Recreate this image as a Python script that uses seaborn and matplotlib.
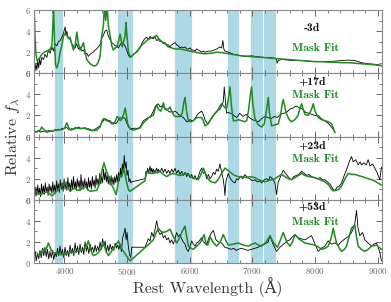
import matplotlib
matplotlib.use("Agg")
import matplotlib.pyplot as plt
import seaborn as sns
from matplotlib.ticker import MultipleLocator

# Epoch labels and masked wavelength windows (Angstrom)
EPOCHS = ["-3d", "+17d", "+23d", "+53d"]
MASK_BANDS = [(3830, 3970), (4840, 5100), (5750, 6040), (6590, 6790), (6960, 7170), (7170, 7380)]

# -3d spectrum
P1_OBS_WL = [3517, 3530, 3545, 3560, 3575, 3590, 3605, 3620, 3640, 3666,
             3690, 3719, 3745, 3772, 3800, 3825, 3850, 3878, 3905, 3932,
             3958, 3985, 4011, 4025, 4038, 4064, 4091, 4117, 4144, 4171,
             4197, 4224, 4251, 4277, 4304, 4330, 4357, 4383, 4410, 4437,
             4463, 4490, 4516, 4543, 4570, 4596, 4623, 4649, 4676, 4702,
             4729, 4756, 4782, 4809, 4835, 4862, 4889, 4915, 4942, 4968,
             4995, 5022, 5048, 5075, 5101, 5128, 5154, 5181, 5207, 5234,
             5261, 5287, 5314, 5340, 5367, 5394, 5420, 5447, 5473, 5500,
             5527, 5553, 5580, 5606, 5633, 5660, 5686, 5712, 5739, 5765,
             5792, 5819, 5846, 5872, 5899, 5925, 5952, 5979, 6005, 6032,
             6058, 6085, 6112, 6138, 6165, 6191, 6218, 6244, 6300, 6350,
             6430, 6483, 6510, 6530, 6545, 6563, 6616, 6700, 6776, 6882,
             6988, 7095, 7201, 7281, 7370, 7387, 7395, 7414, 7467, 7573,
             7680, 7786, 7892, 7998, 8105, 8211, 8318, 8424, 8530, 8637,
             8743, 8849, 8955, 9062]
P1_OBS_FX = [1.0, 0.2, 0.9, 0.3, 1.2, 0.5, 1.4, 0.8, 1.5, 1.3,
             1.8, 1.5, 2.2, 1.9, 2.5, 2.1, 2.8, 2.6, 3.0, 3.1,
             3.4, 3.8, 4.4, 3.6, 4.0, 3.3, 3.2, 2.8, 2.6, 2.4,
             2.8, 2.3, 2.5, 2.1, 2.2, 1.8, 1.9, 1.6, 1.8, 1.9,
             2.0, 2.2, 2.3, 2.5, 2.7, 3.3, 3.6, 4.0, 4.1, 3.5,
             3.2, 2.9, 2.8, 2.6, 2.6, 2.4, 2.7, 2.9, 2.8, 2.6,
             2.2, 1.7, 1.5, 1.6, 1.8, 1.9, 2.1, 2.2, 2.4, 2.8,
             3.1, 3.3, 3.4, 3.2, 3.5, 3.3, 3.3, 3.4, 3.1, 3.2,
             3.0, 3.0, 2.8, 2.9, 2.7, 2.7, 2.5, 2.7, 2.8, 2.9,
             2.7, 2.6, 2.4, 2.5, 2.4, 2.5, 2.3, 2.3, 2.4, 2.2,
             2.2, 2.1, 2.3, 2.2, 2.1, 2.0, 2.1, 2.0, 2.1, 2.1,
             2.3, 2.5, 2.4, 3.1, 2.3, 2.1, 2.0, 1.8, 1.7, 1.6,
             1.65, 1.55, 1.5, 1.5, 1.4, 1.3, 0.95, 1.2, 1.3, 1.25,
             1.2, 1.2, 1.15, 1.1, 1.1, 1.1, 1.15, 1.2, 1.25, 1.2,
             1.0, 0.9, 0.85, 0.75]
P1_FIT_WL = [3517, 3530, 3545, 3565, 3600, 3640, 3680, 3720, 3772, 3800,
             3815, 3828, 3842, 3858, 3878, 3905, 3932, 3958, 3985, 4011,
             4038, 4064, 4091, 4117, 4144, 4171, 4197, 4224, 4251, 4277,
             4304, 4330, 4357, 4383, 4410, 4437, 4463, 4490, 4516, 4543,
             4570, 4596, 4623, 4640, 4660, 4680, 4702, 4729, 4756, 4782,
             4809, 4835, 4862, 4889, 4915, 4926, 4942, 4968, 4984, 4995,
             5022, 5048, 5075, 5101, 5154, 5207, 5261, 5314, 5367, 5420,
             5473, 5500, 5553, 5606, 5660, 5712, 5765, 5846, 5925, 6005,
             6085, 6165, 6244, 6350, 6430, 6510, 6616, 6723, 6829, 6935,
             7042, 7148, 7254, 7360, 7467, 7573, 7680, 7786, 7892, 7998,
             8105, 8211, 8318, 8424, 8530, 8637, 8743, 8849, 8955, 9062]
P1_FIT_FX = [6.3, 3.5, 1.8, 1.2, 1.4, 1.8, 2.0, 2.1, 2.3, 2.6,
             4.5, 6.5, 3.0, 0.8, 0.5, 1.0, 2.0, 2.6, 3.5, 3.8,
             3.6, 3.3, 3.4, 2.8, 2.2, 2.6, 3.9, 2.8, 2.2, 2.5,
             2.9, 2.0, 1.3, 1.1, 0.9, 0.8, 0.7, 0.7, 0.8, 1.1,
             1.6, 3.5, 4.6, 6.5, 5.0, 6.5, 4.5, 3.6, 2.6, 2.2,
             2.4, 2.5, 3.0, 3.7, 2.8, 2.5, 3.0, 3.5, 4.8, 3.8,
             2.0, 1.6, 1.6, 1.8, 2.0, 2.5, 2.8, 3.1, 3.3, 3.4,
             3.6, 3.3, 3.0, 2.8, 2.5, 2.4, 2.3, 2.3, 2.2, 2.1,
             2.0, 1.9, 1.85, 1.9, 2.0, 1.95, 1.85, 1.75, 1.65, 1.6,
             1.55, 1.5, 1.45, 1.4, 1.35, 1.3, 1.25, 1.2, 1.15, 1.1,
             1.1, 1.05, 1.05, 1.0, 1.0, 0.95, 0.9, 0.85, 0.8, 0.7]

# +17d spectrum
P2_OBS_WL = [3517, 3540, 3560, 3590, 3613, 3640, 3666, 3690, 3719, 3745,
             3772, 3799, 3825, 3850, 3878, 3905, 3932, 3958, 3985, 4011,
             4038, 4064, 4091, 4117, 4144, 4171, 4197, 4224, 4251, 4277,
             4304, 4330, 4357, 4383, 4410, 4437, 4463, 4490, 4516, 4543,
             4570, 4596, 4623, 4649, 4676, 4702, 4729, 4756, 4782, 4809,
             4835, 4862, 4889, 4915, 4942, 4968, 4995, 5022, 5048, 5075,
             5101, 5128, 5154, 5181, 5207, 5234, 5261, 5287, 5314, 5340,
             5367, 5394, 5420, 5447, 5473, 5500, 5527, 5553, 5580, 5606,
             5633, 5660, 5686, 5712, 5739, 5765, 5792, 5819, 5846, 5872,
             5899, 5925, 5952, 5979, 6005, 6032, 6058, 6085, 6112, 6138,
             6165, 6191, 6218, 6244, 6271, 6298, 6324, 6350, 6377, 6404,
             6430, 6457, 6483, 6510, 6536, 6552, 6574, 6590, 6616, 6643,
             6669, 6700, 6750, 6800, 6850, 6900, 6950, 7000, 7050, 7100,
             7150, 7200, 7250, 7300, 7350, 7400, 7450, 7500, 7550, 7600,
             7650, 7700, 7750, 7800, 7850, 7900, 7950, 8000, 8050, 8100,
             8150, 8200, 8250, 8300, 8320]
P2_OBS_FX = [0.3, 0.5, 0.4, 0.6, 0.4, 0.5, 0.45, 0.6, 0.5, 0.55,
             0.55, 0.5, 0.5, 0.65, 0.6, 0.7, 0.6, 0.75, 0.75, 0.8,
             0.85, 0.7, 0.65, 0.75, 0.7, 0.85, 0.8, 0.9, 0.8, 0.75,
             0.75, 0.85, 0.7, 0.75, 0.65, 0.6, 0.6, 0.7, 0.8, 0.9,
             1.0, 1.3, 1.5, 1.7, 1.6, 1.5, 1.5, 1.3, 1.3, 1.2,
             1.3, 1.6, 1.8, 1.7, 1.8, 1.7, 1.3, 0.9, 0.8, 0.75,
             0.75, 0.8, 0.75, 0.8, 0.9, 1.2, 1.5, 1.6, 1.7, 1.8,
             1.8, 2.1, 2.4, 2.8, 3.0, 3.1, 2.8, 2.9, 2.8, 2.7,
             2.6, 2.4, 2.3, 2.4, 2.3, 2.4, 2.3, 2.1, 2.0, 1.9,
             1.8, 1.6, 1.4, 1.4, 1.6, 1.5, 1.5, 1.7, 2.0, 2.2,
             2.3, 2.4, 2.1, 1.6, 1.3, 1.2, 1.5, 1.8, 2.0, 2.2,
             2.3, 2.5, 2.6, 2.9, 3.3, 4.7, 3.1, 2.2, 2.3, 2.2,
             2.2, 2.0, 1.8, 2.2, 1.9, 2.1, 1.8, 1.6, 1.5, 1.4,
             1.7, 1.9, 1.8, 1.7, 1.9, 1.8, 2.1, 2.2, 2.3, 2.6,
             2.7, 2.9, 2.7, 2.6, 2.3, 2.2, 2.1, 2.0, 2.0, 1.7,
             1.5, 1.3, 1.0, 0.6, 0.35]
P2_FIT_WL = [3517, 3570, 3613, 3639, 3666, 3719, 3772, 3825, 3878, 3932,
             3985, 4011, 4038, 4064, 4091, 4144, 4197, 4251, 4304, 4357,
             4410, 4463, 4516, 4570, 4596, 4623, 4676, 4729, 4756, 4782,
             4809, 4840, 4862, 4890, 4915, 4950, 4970, 4990, 5010, 5048,
             5101, 5154, 5207, 5261, 5314, 5367, 5420, 5447, 5473, 5500,
             5537, 5560, 5580, 5606, 5633, 5660, 5686, 5712, 5739, 5765,
             5800, 5846, 5880, 5905, 5925, 5950, 5979, 6020, 6058, 6112,
             6165, 6191, 6218, 6244, 6290, 6324, 6370, 6404, 6450, 6483,
             6510, 6540, 6570, 6590, 6615, 6643, 6665, 6696, 6740, 6776,
             6830, 6880, 6909, 6940, 6965, 6988, 7010, 7042, 7095, 7148,
             7190, 7230, 7254, 7275, 7307, 7360, 7414, 7450, 7475, 7493,
             7520, 7547, 7590, 7626, 7680, 7730, 7760, 7786, 7810, 7839,
             7890, 7940, 7972, 8000, 8052, 8105, 8158, 8211, 8264, 8318]
P2_FIT_FX = [0.4, 0.5, 0.6, 0.9, 0.7, 0.4, 0.5, 0.55, 0.6, 0.65,
             0.7, 0.9, 1.3, 0.9, 0.6, 0.7, 0.8, 0.75, 0.8, 0.7,
             0.6, 0.55, 0.6, 0.9, 1.4, 1.7, 1.5, 1.4, 1.2, 1.2,
             1.4, 1.9, 1.8, 1.5, 1.6, 2.2, 2.7, 2.0, 1.2, 0.7,
             0.6, 0.7, 0.8, 1.3, 1.6, 1.9, 2.0, 2.6, 3.0, 2.6,
             2.4, 2.7, 3.2, 2.6, 2.5, 2.6, 2.8, 2.4, 2.1, 1.9,
             1.9, 1.9, 2.2, 3.2, 3.7, 2.4, 1.5, 1.4, 1.5, 1.8,
             1.8, 1.8, 1.5, 1.0, 1.2, 1.5, 1.9, 2.2, 2.5, 2.9,
             3.1, 2.9, 2.7, 2.7, 3.5, 4.7, 3.0, 1.5, 1.5, 1.6,
             1.5, 1.4, 1.5, 2.5, 3.8, 4.7, 3.0, 1.7, 1.1, 0.9,
             1.2, 2.6, 3.7, 2.2, 1.0, 1.1, 1.2, 2.0, 3.0, 3.5,
             2.8, 2.1, 1.6, 1.4, 1.6, 2.0, 2.7, 3.1, 2.6, 2.1,
             2.0, 2.5, 3.1, 2.4, 1.8, 1.6, 1.5, 1.4, 1.2, 0.4]

# +23d spectrum
P3_OBS_WL = [3517, 3530, 3545, 3560, 3575, 3590, 3605, 3620, 3635, 3650,
             3665, 3680, 3695, 3710, 3725, 3740, 3755, 3770, 3785, 3800,
             3815, 3830, 3845, 3860, 3875, 3890, 3905, 3920, 3935, 3950,
             3965, 3980, 3995, 4010, 4025, 4040, 4055, 4070, 4085, 4100,
             4115, 4130, 4145, 4160, 4175, 4190, 4205, 4220, 4235, 4250,
             4265, 4280, 4295, 4310, 4325, 4340, 4355, 4370, 4385, 4400,
             4415, 4430, 4445, 4460, 4475, 4490, 4505, 4520, 4535, 4550,
             4565, 4580, 4595, 4610, 4625, 4640, 4655, 4670, 4685, 4700,
             4715, 4730, 4745, 4760, 4775, 4790, 4805, 4820, 4835, 4850,
             4865, 4880, 4895, 4910, 4925, 4940, 4955, 4970, 4985, 5000,
             5015, 5030, 5045, 5060, 5075, 5287, 5300, 5314, 5330, 5345,
             5367, 5380, 5394, 5410, 5420, 5447, 5473, 5490, 5500, 5527,
             5553, 5580, 5606, 5633, 5660, 5686, 5712, 5739, 5765, 5792,
             5819, 5846, 5872, 5899, 5925, 5952, 5979, 6005, 6032, 6058,
             6085, 6112, 6138, 6165, 6191, 6218, 6244, 6271, 6298, 6324,
             6350, 6377, 6404, 6430, 6457, 6483, 6510, 6536, 6552, 6563,
             6580, 6616, 6650, 6690, 6723, 6750, 6776, 6810, 6850, 6882,
             6920, 6960, 7000, 7042, 7080, 7120, 7148, 7190, 7230, 7260,
             7281, 7320, 7360, 7387, 7410, 7450, 7493, 7530, 7570, 7600,
             7626, 7660, 7700, 7740, 7786, 7830, 7870, 7900, 7945, 7990,
             8030, 8080, 8120, 8158, 8200, 8250, 8290, 8318, 8350, 8390,
             8424, 8460, 8500, 8530, 8560, 8583, 8610, 8650, 8690, 8720,
             8743, 8780, 8820, 8849, 8880, 8920, 8955, 8990, 9035, 9062]
P3_OBS_FX = [0.9, 0.3, 1.2, 0.4, 1.4, 0.5, 1.1, 0.3, 1.5, 0.6,
             1.3, 0.5, 1.6, 0.7, 1.2, 0.4, 1.5, 0.8, 1.3, 0.6,
             1.7, 0.7, 1.4, 0.6, 1.8, 0.9, 1.5, 0.7, 1.9, 1.0,
             1.6, 0.8, 2.0, 1.0, 1.7, 0.9, 2.1, 1.1, 1.6, 0.8,
             1.9, 1.0, 2.2, 1.1, 1.7, 0.9, 2.0, 1.2, 1.8, 0.9,
             2.4, 1.1, 1.8, 1.0, 2.0, 1.2, 1.7, 0.9, 2.1, 1.2,
             1.8, 1.0, 2.2, 1.3, 1.9, 1.1, 2.3, 1.4, 2.0, 1.3,
             2.5, 1.5, 2.2, 1.6, 2.9, 1.9, 2.6, 1.7, 2.4, 1.5,
             2.2, 1.4, 2.3, 1.5, 2.1, 1.4, 2.2, 1.6, 2.4, 1.7,
             2.6, 1.8, 3.0, 2.1, 3.4, 2.6, 4.2, 3.0, 3.6, 2.3,
             2.8, 1.7, 2.0, 1.6, 1.7, 2.0, 2.7, 2.4, 3.0, 2.5,
             3.2, 2.6, 3.0, 2.5, 2.9, 2.6, 3.0, 2.5, 2.9, 2.6,
             3.0, 2.6, 2.9, 2.5, 2.8, 2.5, 2.9, 2.6, 3.0, 2.5,
             2.8, 2.4, 2.7, 2.3, 2.6, 2.2, 2.5, 2.1, 2.4, 2.0,
             2.3, 1.9, 2.2, 2.7, 3.0, 2.5, 2.6, 2.0, 2.4, 2.0,
             2.2, 2.6, 2.4, 2.9, 2.7, 3.4, 2.6, 1.9, 1.2, 0.4,
             1.8, 2.5, 2.0, 1.7, 1.6, 2.0, 1.9, 2.2, 2.0, 2.4,
             2.1, 2.0, 1.8, 1.9, 1.7, 1.8, 1.6, 1.9, 2.0, 1.8,
             2.2, 2.0, 1.6, 0.5, 1.6, 2.2, 2.8, 2.5, 2.2, 2.0,
             1.9, 2.2, 2.3, 2.4, 2.7, 2.5, 2.3, 2.4, 2.2, 2.1,
             2.0, 2.1, 1.9, 1.9, 1.7, 1.4, 1.0, 0.85, 1.2, 1.3,
             1.6, 2.2, 2.8, 3.3, 3.8, 4.1, 3.6, 3.8, 3.3, 3.6,
             3.3, 3.5, 3.3, 3.8, 3.2, 3.4, 3.0, 2.6, 1.9, 3.1]
P3_FIT_WL = [3517, 3560, 3613, 3666, 3719, 3760, 3799, 3840, 3878, 3920,
             3958, 4011, 4050, 4091, 4130, 4171, 4210, 4251, 4290, 4330,
             4370, 4410, 4463, 4516, 4545, 4570, 4600, 4633, 4660, 4687,
             4729, 4782, 4810, 4825, 4850, 4878, 4915, 4952, 4975, 4995,
             5020, 5048, 5287, 5314, 5367, 5420, 5473, 5527, 5580, 5633,
             5686, 5739, 5792, 5846, 5899, 5952, 6005, 6058, 6112, 6138,
             6180, 6218, 6260, 6300, 6350, 6404, 6450, 6510, 6563, 6610,
             6669, 6720, 6776, 6829, 6900, 6960, 7042, 7100, 7150, 7201,
             7250, 7307, 7360, 7410, 7467, 7520, 7573, 7626, 7680, 7735,
             7786, 7840, 7900, 7998, 8080, 8158, 8220, 8260, 8291, 8340,
             8380, 8424, 8480, 8530, 8580, 8640, 8690, 8750, 8800, 8850,
             8902, 8950, 9000, 9062]
P3_FIT_FX = [0.9, 0.7, 0.5, 0.6, 0.8, 0.6, 0.35, 0.6, 0.8, 1.1,
             1.3, 1.6, 1.2, 0.8, 1.0, 1.1, 0.9, 0.9, 1.1, 1.3,
             1.0, 0.8, 0.85, 0.9, 1.3, 1.9, 2.8, 3.5, 2.9, 2.5,
             1.7, 1.1, 0.7, 0.5, 1.3, 2.3, 2.2, 3.0, 2.2, 1.6,
             1.0, 0.8, 1.8, 2.7, 2.5, 2.5, 2.6, 2.7, 2.4, 2.2,
             2.4, 2.5, 2.4, 2.3, 2.4, 2.5, 2.3, 2.0, 2.0, 1.9,
             2.4, 3.0, 2.4, 1.9, 1.7, 1.6, 1.9, 2.5, 3.0, 2.8,
             2.5, 2.3, 2.2, 2.2, 2.1, 2.2, 2.1, 1.9, 1.8, 1.7,
             1.8, 1.9, 2.0, 2.2, 2.4, 2.2, 2.0, 1.9, 2.1, 2.3,
             2.5, 2.3, 2.2, 2.1, 1.9, 1.7, 1.4, 1.0, 0.85, 0.9,
             1.0, 1.3, 2.0, 2.5, 2.4, 2.4, 2.3, 2.2, 2.1, 2.0,
             1.9, 1.8, 1.6, 1.4]

# +53d spectrum
P4_OBS_WL = [3517, 3535, 3550, 3570, 3590, 3610, 3630, 3650, 3670, 3690,
             3710, 3730, 3750, 3770, 3790, 3810, 3830, 3850, 3870, 3890,
             3910, 3930, 3950, 3970, 3990, 4010, 4030, 4050, 4070, 4090,
             4110, 4130, 4150, 4170, 4190, 4210, 4230, 4250, 4270, 4290,
             4310, 4330, 4350, 4370, 4390, 4410, 4430, 4450, 4470, 4490,
             4510, 4530, 4550, 4570, 4590, 4610, 4630, 4650, 4670, 4690,
             4710, 4730, 4750, 4770, 4790, 4810, 4830, 4850, 4870, 4890,
             4910, 4930, 4950, 4970, 4985, 5000, 5020, 5040, 5060, 5075,
             5287, 5314, 5340, 5367, 5394, 5420, 5447, 5473, 5490, 5500,
             5527, 5553, 5580, 5606, 5633, 5660, 5686, 5712, 5739, 5765,
             5792, 5819, 5846, 5872, 5899, 5925, 5952, 5979, 6005, 6032,
             6058, 6085, 6112, 6138, 6165, 6191, 6218, 6244, 6271, 6300,
             6340, 6377, 6420, 6460, 6510, 6560, 6616, 6660, 6700, 6740,
             6776, 6820, 6880, 6930, 6988, 7040, 7095, 7148, 7200, 7254,
             7281, 7330, 7387, 7440, 7480, 7520, 7560, 7600, 7640, 7680,
             7730, 7786, 7840, 7890, 7945, 8000, 8052, 8100, 8158, 8211,
             8260, 8320, 8371, 8420, 8477, 8530, 8583, 8630, 8663, 8685,
             8716, 8760, 8796, 8850, 8902, 8940, 8982, 9010, 9035, 9062]
P4_OBS_FX = [0.6, 1.1, 0.2, 0.9, 0.4, 1.2, 0.5, 1.4, 0.7, 1.5,
             0.6, 1.3, 0.4, 1.1, 0.5, 1.2, 0.3, 1.0, 0.6, 1.4,
             0.7, 1.6, 0.8, 1.3, 0.5, 1.5, 0.7, 1.2, 0.6, 1.7,
             0.9, 1.4, 0.7, 1.9, 1.0, 1.6, 0.8, 1.8, 1.0, 1.5,
             0.8, 2.0, 1.1, 1.6, 0.9, 1.8, 1.2, 1.5, 1.0, 1.7,
             1.1, 1.6, 1.2, 2.0, 1.3, 2.3, 1.6, 2.1, 1.0, 1.7,
             1.1, 1.8, 1.3, 1.6, 1.2, 1.9, 1.4, 1.7, 1.3, 1.8,
             1.1, 2.4, 2.8, 3.3, 2.2, 2.9, 1.6, 0.8, 0.5, 1.5,
             1.5, 1.9, 2.3, 2.1, 2.9, 2.5, 3.2, 4.0, 3.5, 3.0,
             2.7, 2.9, 2.4, 2.6, 2.2, 2.4, 1.9, 2.2, 1.8, 2.3,
             2.9, 2.5, 2.7, 2.3, 2.0, 1.8, 1.3, 1.1, 1.6, 2.1,
             1.8, 1.6, 1.9, 2.0, 2.2, 2.4, 2.0, 1.9, 1.7, 2.3,
             2.8, 3.1, 2.2, 2.0, 1.9, 1.5, 1.4, 1.3, 1.4, 1.2,
             1.3, 1.4, 1.3, 1.2, 1.3, 1.4, 1.5, 1.7, 1.8, 2.0,
             2.6, 1.8, 1.1, 1.5, 1.7, 1.9, 2.1, 2.2, 2.5, 2.7,
             2.4, 2.3, 2.2, 2.4, 2.6, 1.8, 1.1, 1.4, 1.6, 2.1,
             1.8, 1.9, 1.7, 2.0, 2.3, 2.5, 2.9, 3.5, 5.0, 3.4,
             2.6, 2.9, 2.2, 1.9, 1.6, 1.8, 1.9, 1.5, 1.0, 0.2]
P4_FIT_WL = [3517, 3560, 3613, 3666, 3700, 3745, 3790, 3825, 3880, 3932,
             3985, 4040, 4091, 4144, 4200, 4251, 4304, 4350, 4383, 4420,
             4463, 4500, 4543, 4590, 4623, 4660, 4702, 4750, 4809, 4862,
             4900, 4942, 5000, 5048, 5314, 5367, 5420, 5460, 5500, 5540,
             5580, 5630, 5686, 5740, 5792, 5830, 5872, 5925, 5952, 5979,
             6020, 6058, 6110, 6165, 6200, 6230, 6260, 6290, 6324, 6370,
             6430, 6490, 6536, 6580, 6616, 6700, 6776, 6860, 6935, 7000,
             7042, 7100, 7148, 7220, 7281, 7340, 7400, 7450, 7493, 7550,
             7600, 7640, 7680, 7740, 7839, 7920, 7998, 8060, 8105, 8160,
             8211, 8260, 8291, 8320, 8344, 8390, 8424, 8470, 8504, 8550,
             8583, 8637, 8660, 8690, 8740, 8796, 8850, 8902, 8982, 9062]
P4_FIT_FX = [0.5, 0.7, 0.9, 1.3, 1.2, 1.9, 1.2, 1.0, 0.9, 0.8,
             0.8, 0.9, 1.0, 1.0, 1.1, 1.2, 1.3, 1.6, 2.1, 1.2,
             0.7, 0.8, 1.0, 1.4, 1.9, 1.2, 0.7, 1.1, 1.6, 2.1,
             1.5, 1.1, 0.6, 0.2, 1.6, 1.9, 2.2, 2.8, 3.3, 3.0,
             2.9, 3.0, 3.2, 2.5, 1.9, 2.3, 2.9, 3.5, 2.5, 1.6,
             1.4, 1.3, 1.6, 1.9, 2.3, 2.7, 1.9, 1.7, 2.5, 2.0,
             1.6, 2.0, 2.7, 2.1, 1.7, 1.8, 1.9, 1.7, 1.6, 1.8,
             1.9, 1.7, 1.6, 2.0, 2.6, 1.9, 1.5, 2.2, 2.9, 2.0,
             1.6, 2.0, 2.7, 2.3, 1.9, 1.8, 1.7, 1.5, 1.3, 1.4,
             1.6, 2.4, 3.3, 2.5, 1.9, 1.4, 1.1, 1.3, 1.6, 2.6,
             3.3, 3.6, 2.6, 1.6, 1.3, 1.1, 1.3, 1.6, 1.7, 1.3]

OBSERVED = [(P1_OBS_WL, P1_OBS_FX), (P2_OBS_WL, P2_OBS_FX),
            (P3_OBS_WL, P3_OBS_FX), (P4_OBS_WL, P4_OBS_FX)]
FITS = [(P1_FIT_WL, P1_FIT_FX), (P2_FIT_WL, P2_FIT_FX),
        (P3_FIT_WL, P3_FIT_FX), (P4_FIT_WL, P4_FIT_FX)]

# label positions, axes fraction
EPOCH_Y = [0.71, 0.86, 0.86, 0.89]
FIT_Y = [0.40, 0.65, 0.64, 0.65]

GREEN = "#1f8a1f"
BAND = "#add8e6"
GREY = "#666666"

sns.set_style("ticks")
plt.rcParams["font.family"] = ["cmr10", "DejaVu Serif"]
plt.rcParams["mathtext.fontset"] = "cm"
plt.rcParams["axes.formatter.use_mathtext"] = True

fig, axes = plt.subplots(4, 1, figsize=(3.91, 3.02), dpi=100, sharex=True)
fig.subplots_adjust(left=0.087, right=0.977, top=0.967, bottom=0.129, hspace=0)

for i, ax in enumerate(axes):
    for lo, hi in MASK_BANDS:
        ax.axvspan(lo, hi, facecolor=BAND, edgecolor="white", lw=0.6, zorder=0)
    wl, fx = OBSERVED[i]
    sns.lineplot(x=wl, y=fx, ax=ax, color="black", lw=0.6, sort=False, estimator=None)
    wl, fx = FITS[i]
    sns.lineplot(x=wl, y=fx, ax=ax, color=GREEN, lw=1.1, sort=False, estimator=None)

    ax.set_xlim(3515, 9070)
    ax.set_ylim(0, 6)
    ax.set_yticks([0, 2, 4, 6])
    ax.yaxis.set_minor_locator(MultipleLocator(1))
    ax.xaxis.set_major_locator(MultipleLocator(1000))
    ax.xaxis.set_minor_locator(MultipleLocator(200))
    ax.tick_params(which="both", direction="in", top=True, right=True,
                   color=GREY, labelcolor=GREY, labelsize=6.5, pad=2)
    ax.tick_params(which="major", length=4, width=0.7)
    ax.tick_params(which="minor", length=2, width=0.6)
    for sp in ax.spines.values():
        sp.set_color("#888888")
        sp.set_linewidth(0.8)
    ax.set_xlabel("")
    ax.set_ylabel("")

    ax.text(0.8, EPOCH_Y[i], EPOCHS[i], transform=ax.transAxes, ha="center", va="center",
            fontsize=8.5, family=["cmb10", "DejaVu Serif"], color="#111111")
    ax.text(0.81, FIT_Y[i], "Mask Fit", transform=ax.transAxes, ha="center", va="center",
            fontsize=8.5, family=["cmb10", "DejaVu Serif"], color=GREEN)

fig.text(0.532, 0.05, "Rest Wavelength (Å)", ha="center", va="center", fontsize=11.5, color="#333333")
fig.text(0.012, 0.548, r"Relative $f_\lambda$", ha="left", va="center", rotation=90,
         fontsize=11.5, color="#333333")

fig.savefig("out.png", dpi=100)
